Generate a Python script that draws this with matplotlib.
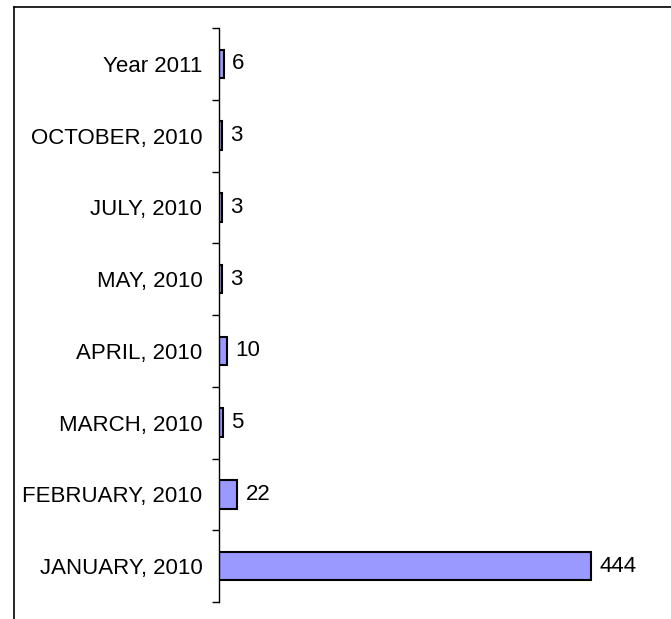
import matplotlib
matplotlib.use('Agg')
import matplotlib.pyplot as plt
from matplotlib.lines import Line2D

# Data
categories = ['JANUARY, 2010', 'FEBRUARY, 2010', 'MARCH, 2010', 'APRIL, 2010',
              'MAY, 2010', 'JULY, 2010', 'OCTOBER, 2010', 'Year 2011']
values = [444, 22, 5, 10, 3, 3, 3, 6]

plt.rcParams['font.family'] = 'Liberation Sans'

fig = plt.figure(figsize=(6.71, 6.19), dpi=100)
ax = fig.add_axes([219 / 671, 1 - 602 / 619, (650 - 219) / 671, (602 - 28) / 619])

y = range(len(categories))
ax.barh(y, values, height=0.4, color='#9999FF', edgecolor='black', linewidth=1.5)

ax.set_xlim(0, 444 * (650 - 219) / 372)
ax.set_ylim(-0.5, len(categories) - 0.5)

# value labels
for i, v in enumerate(values):
    ax.annotate(str(v), (v, i), xytext=(6, 0), textcoords='offset points',
                va='center', ha='left', fontsize=16)

# category labels & tick marks between categories
ax.set_yticks(list(y))
ax.set_yticklabels(categories, fontsize=16)
ax.tick_params(axis='y', which='major', length=0, pad=12)
ax.set_yticks([i - 0.5 for i in range(len(categories) + 1)], minor=True)
ax.tick_params(axis='y', which='minor', length=5, width=1, direction='out')
ax.set_xticks([])

for s in ['top', 'right', 'bottom']:
    ax.spines[s].set_visible(False)
ax.spines['left'].set_linewidth(1)

# outer frame (left and top visible)
fig.add_artist(Line2D([14 / 671, 14 / 671], [0, 1 - 7 / 619], color='black', lw=1.2, transform=fig.transFigure))
fig.add_artist(Line2D([14 / 671, 1], [1 - 7 / 619, 1 - 7 / 619], color='black', lw=1.2, transform=fig.transFigure))

fig.savefig('out.png', dpi=100)
